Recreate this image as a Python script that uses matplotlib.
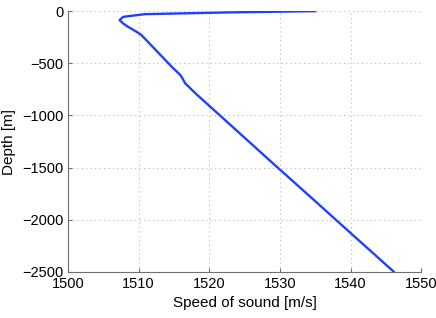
import matplotlib
matplotlib.use('Agg')
import matplotlib.pyplot as plt

plt.rcParams['font.family'] = ['Liberation Sans', 'DejaVu Sans']

# sound speed profile
speed = [1535.0, 1522.9, 1510.9, 1507.8, 1507.3, 1507.8, 1508.5, 1509.7, 1510.4,
         1513.1, 1514.7, 1515.9, 1516.2, 1516.6, 1518.2, 1520.4, 1527.7, 1529.8,
         1534.8, 1540.05, 1546.1]
depth = [0, -12, -29, -55, -86, -118, -150, -198, -230,
         -421, -534, -613, -645, -693, -798, -932, -1379, -1507,
         -1810, -2130, -2497]

fig = plt.figure(figsize=(4.36, 3.18), dpi=100)
ax = fig.add_axes([0.156, 0.145, 0.81, 0.82])
ax.plot(speed, depth, color='#2040ff', linewidth=1.7)

ax.set_xlim(1500, 1550)
ax.set_ylim(-2500, 0)
ax.set_xticks(range(1500, 1551, 10))
ax.set_yticks(range(-2500, 1, 500))
ax.grid(True, linestyle=(0, (1, 3)), color='#b8b8b8', linewidth=0.8)
ax.spines['top'].set_visible(False)
ax.spines['right'].set_visible(False)
ax.spines['left'].set_color('#707070')
ax.spines['bottom'].set_color('#707070')
ax.tick_params(direction='in', length=3, labelsize=10.5, colors='#707070',
               labelcolor='black')
ax.set_xlabel('Speed of sound [m/s]', fontsize=11)
ax.set_ylabel('Depth [m]', fontsize=11)

fig.savefig('out.png', dpi=100)
